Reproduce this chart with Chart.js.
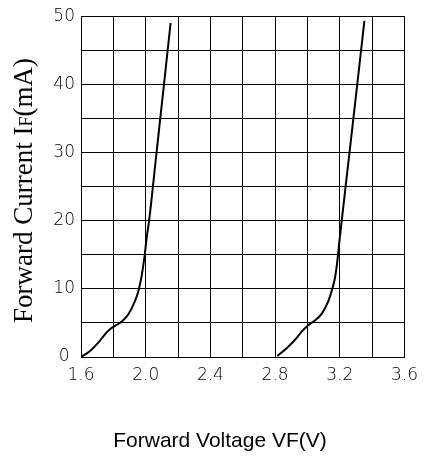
<!DOCTYPE html>
<html lang="en">
<head>
    <meta charset="UTF-8">
    <script src="https://cdn.jsdelivr.net/npm/chart.js"></script>
    <style>
        html, body { margin: 0; padding: 0; background: #fff; }
        #wrap { width: 426px; height: 462px; }
    </style>
</head>
<body>
    <div id="wrap"><canvas id="ivChart" width="426" height="462"></canvas></div>
    <script>
        // forward voltage (V) / forward current (mA)
        const redVoltage = [1.6, 1.656, 1.707, 1.748, 1.779, 1.81, 1.852, 1.893, 1.934, 1.955, 1.975, 1.992, 2.006, 2.021, 2.067, 2.113, 2.154];
        const redCurrent = [0, 0.88, 2.1, 3.33, 4.07, 4.56, 5.2, 6.27, 8.24, 9.7, 11.9, 14.6, 17.5, 20, 30, 40, 49];
        const blueVoltage = [2.814, 2.875, 2.926, 2.967, 3.0, 3.037, 3.089, 3.13, 3.15, 3.171, 3.185, 3.198, 3.212, 3.26, 3.308, 3.352];
        const blueCurrent = [0.15, 1.37, 2.6, 3.8, 4.56, 5.2, 6.37, 8.24, 9.7, 11.7, 14.1, 17.06, 20, 30, 40, 49.3];

        const xTitle = 'Forward Voltage VF(V)';
        // y title: "I" with a small "F" after it
        const yTitleParts = [
            { text: 'Forward Current I', size: 27 },
            { text: 'F', size: 18 },
            { text: '(mA)', size: 27 }
        ];

        const toPoints = (xs, ys) => xs.map((x, i) => ({ x: x, y: ys[i] }));

        const axisTitles = {
            id: 'axisTitles',
            afterDraw(chart) {
                const ctx = chart.ctx;
                const area = chart.chartArea;
                ctx.save();
                ctx.fillStyle = '#000';
                ctx.textAlign = 'center';
                ctx.textBaseline = 'alphabetic';
                ctx.font = '21px "Liberation Sans", Arial, sans-serif';
                ctx.fillText(xTitle, 220, 447);

                ctx.textAlign = 'left';
                const fontOf = p => p.size + 'px "Liberation Serif", "Times New Roman", serif';
                let total = 0;
                yTitleParts.forEach(p => { ctx.font = fontOf(p); total += ctx.measureText(p.text).width; });
                ctx.translate(32, (area.top + area.bottom) / 2 + 4);
                ctx.rotate(-Math.PI / 2);
                let x = -total / 2;
                yTitleParts.forEach(p => {
                    ctx.font = fontOf(p);
                    ctx.fillText(p.text, x, 0);
                    x += ctx.measureText(p.text).width;
                });
                ctx.restore();
            }
        };

        const lineStyle = {
            showLine: true,
            borderColor: '#000',
            borderWidth: 2,
            pointRadius: 0,
            fill: false,
            cubicInterpolationMode: 'monotone'
        };

        const tickFont = { family: '"DejaVu Sans", sans-serif', size: 17, weight: 200 };

        new Chart(document.getElementById('ivChart'), {
            type: 'scatter',
            data: {
                datasets: [
                    Object.assign({ label: 'curve 1', data: toPoints(redVoltage, redCurrent) }, lineStyle),
                    Object.assign({ label: 'curve 2', data: toPoints(blueVoltage, blueCurrent) }, lineStyle)
                ]
            },
            options: {
                responsive: false,
                animation: false,
                layout: { padding: { left: 0, top: 15, right: 20, bottom: 0 } },
                plugins: { legend: { display: false }, tooltip: { enabled: false } },
                scales: {
                    x: {
                        type: 'linear',
                        min: 1.6,
                        max: 3.6,
                        afterFit: s => { s.height = 105; },
                        ticks: {
                            stepSize: 0.2,
                            padding: 8,
                            maxRotation: 0,
                            autoSkip: false,
                            color: '#000',
                            font: tickFont,
                            callback: v => Math.round(v * 10) % 4 === 0 ? v.toFixed(1) : ''
                        },
                        grid: { color: '#000', lineWidth: 1, drawTicks: false },
                        border: { color: '#000', width: 1 }
                    },
                    y: {
                        min: 0,
                        max: 50,
                        afterFit: s => { s.width = 81; },
                        ticks: {
                            stepSize: 5,
                            padding: 6,
                            crossAlign: 'center',
                            autoSkip: false,
                            color: '#000',
                            font: tickFont,
                            callback: v => v % 10 === 0 ? String(v) : ''
                        },
                        grid: { color: '#000', lineWidth: 1, drawTicks: false },
                        border: { color: '#000', width: 1 }
                    }
                }
            },
            plugins: [axisTitles]
        });
    </script>
</body>
</html>
